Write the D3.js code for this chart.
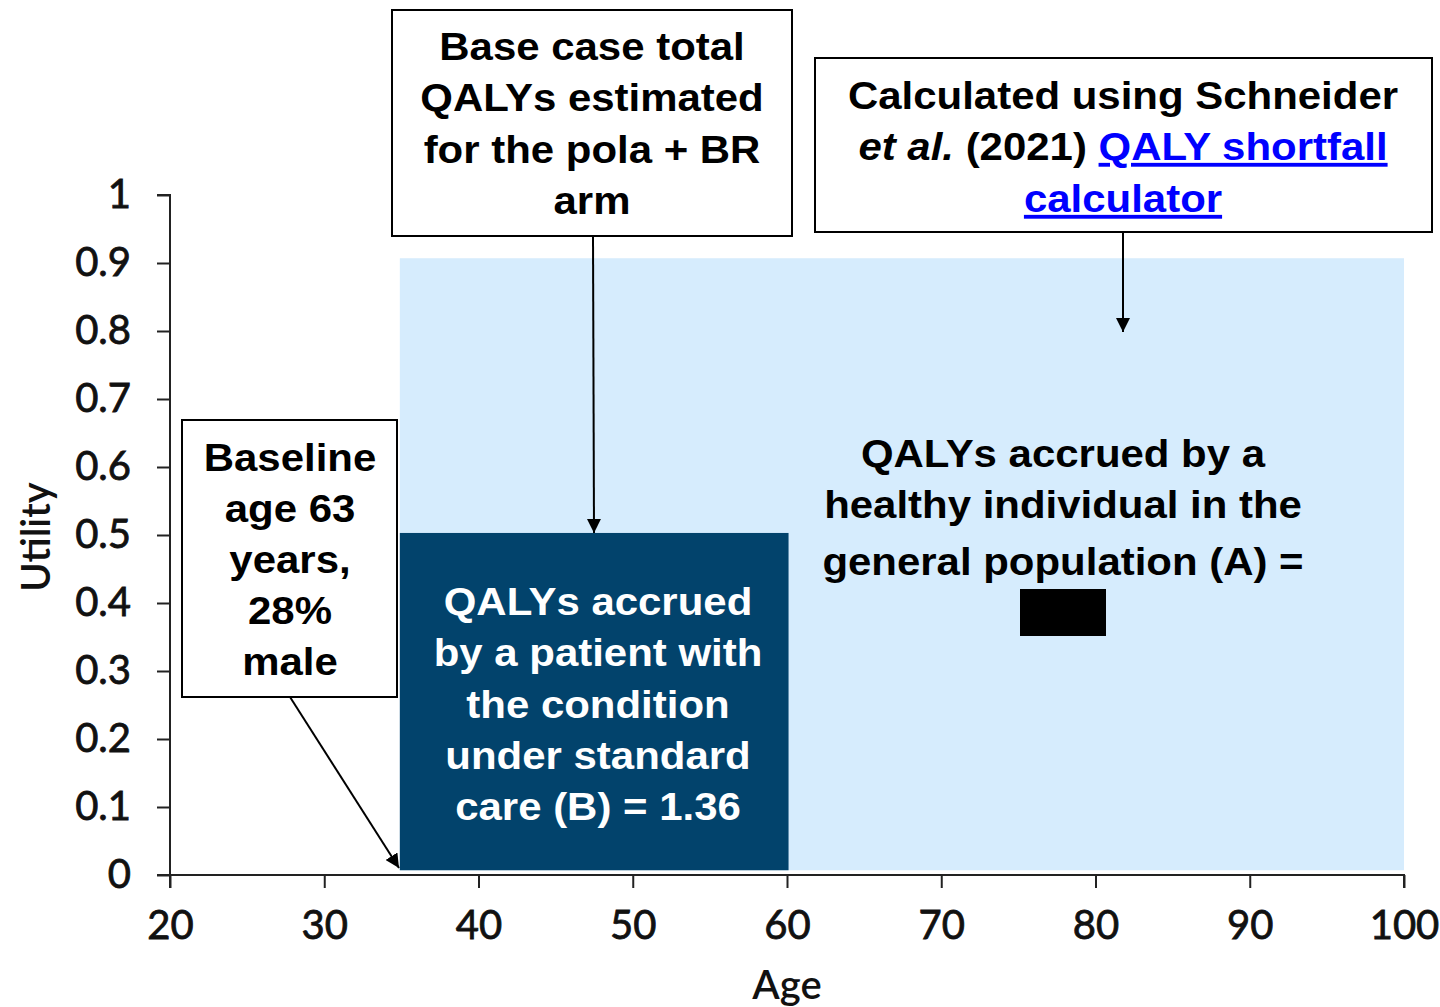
<!DOCTYPE html>
<html>
<head>
<meta charset="utf-8">
<script src="https://cdn.jsdelivr.net/npm/d3@7"></script>
<style>
  html, body { margin: 0; padding: 0; background: #fff; }
  svg { display: block; }
</style>
</head>
<body>
<svg id="chart" width="1440" height="1007"></svg>
<script>
// Utility profile areas: start age, end age, utility
const areaNames = ["general", "patient"];
const areaStartAge = [34.9, 34.9];
const areaEndAge = [100, 60.1];
const areaUtility = [0.907, 0.503];
const areaBase = 0.007;

const xTicks = [20, 30, 40, 50, 60, 70, 80, 90, 100];
const yTicks = [0, 0.1, 0.2, 0.3, 0.4, 0.5, 0.6, 0.7, 0.8, 0.9, 1];

const patientLines = ["QALYs accrued", "by a patient with", "the condition", "under standard", "care (B) = 1.36"];
const generalLines = ["QALYs accrued by a", "healthy individual in the", "general population (A) ="];
const baseCaseLines = ["Base case total", "QALYs estimated", "for the pola + BR", "arm"];
const baselineLines = ["Baseline", "age 63", "years,", "28%", "male"];

const svg = d3.select("#chart");
const x = d3.scaleLinear().domain([20, 100]).range([170, 1404]);
const y = d3.scaleLinear().domain([0, 1]).range([875, 195]);

const colours = { general: "#d6ecfd", patient: "#02436c" };
const sans = "'Liberation Sans', Arial, sans-serif";
const tickFont = "Lato, 'Open Sans', sans-serif";
const stretch = 1.09;

// Arrowhead marker
svg.append("defs").append("marker")
  .attr("id", "arrow")
  .attr("viewBox", "0 0 10 10")
  .attr("refX", 10).attr("refY", 5)
  .attr("markerWidth", 7).attr("markerHeight", 7)
  .attr("markerUnits", "strokeWidth")
  .attr("orient", "auto")
  .append("path").attr("d", "M0,0 L10,5 L0,10 Z").attr("fill", "#000");

// Areas
svg.append("g").selectAll("rect")
  .data(areaNames.map((n, i) => ({ n, a0: areaStartAge[i], a1: areaEndAge[i], u: areaUtility[i] })))
  .join("rect")
  .attr("x", d => x(d.a0))
  .attr("y", d => y(d.u))
  .attr("width", d => x(d.a1) - x(d.a0))
  .attr("height", d => y(areaBase) - y(d.u))
  .attr("fill", d => colours[d.n]);

// Axes
const xAxis = svg.append("g")
  .attr("transform", `translate(0,${y(0)})`)
  .call(d3.axisBottom(x).tickValues(xTicks).tickSize(13).tickPadding(23).tickFormat(d3.format("d")));
const yAxis = svg.append("g")
  .attr("transform", `translate(${x(20)},0)`)
  .call(d3.axisLeft(y).tickValues(yTicks).tickSize(13).tickPadding(26).tickFormat(d => d3.format("")(d)));
[xAxis, yAxis].forEach(g => {
  g.selectAll("path, line").attr("stroke", "#222").attr("stroke-width", 2);
  g.selectAll("text").attr("font-family", tickFont).attr("font-size", 40).attr("fill", "#111")
    .attr("stroke", "#111").attr("stroke-width", 0.8);
});
xAxis.select(".domain").attr("d", `M${x(20)},13V0H${x(100)}V13`);
yAxis.select(".domain").attr("d", `M-13,${y(1)}H0V${y(0)}H-13`);

// Axis titles
svg.append("text")
  .attr("transform", `translate(50,${(y(0) + y(1)) / 2 + 2}) rotate(-90)`)
  .attr("text-anchor", "middle")
  .attr("font-family", tickFont).attr("font-size", 40).attr("font-weight", 600).attr("fill", "#111")
  .text("Utility");
svg.append("text")
  .attr("x", 787).attr("y", 999)
  .attr("text-anchor", "middle")
  .attr("font-family", tickFont).attr("font-size", 40).attr("font-weight", 600).attr("fill", "#111")
  .text("Age");

// Multi-line centred text, slightly widened
function lines(arr, cx, y0, step, colour, size) {
  const t = svg.append("text")
    .attr("transform", `translate(${cx},0) scale(${stretch},1)`)
    .attr("text-anchor", "middle")
    .attr("font-family", sans).attr("font-weight", "bold")
    .attr("font-size", size).attr("fill", colour);
  arr.forEach((s, i) => t.append("tspan").attr("x", 0).attr("y", y0 + i * step).text(s));
  return t;
}

// Area labels
lines(patientLines, 598, 615, 51.3, "#fff", 38.5);
lines(generalLines.slice(0, 2), 1063, 467, 51.5, "#000", 38.5);
lines(generalLines.slice(2), 1063, 575, 0, "#000", 38.5);
// Redacted value
svg.append("rect").attr("x", 1020).attr("y", 589).attr("width", 86).attr("height", 47).attr("fill", "#000");

// Callout boxes
function box(x0, y0, w, h) {
  svg.append("rect").attr("x", x0).attr("y", y0).attr("width", w).attr("height", h)
    .attr("fill", "#fff").attr("stroke", "#000").attr("stroke-width", 2);
}
function arrow(x1, y1, x2, y2) {
  svg.append("line").attr("x1", x1).attr("y1", y1).attr("x2", x2).attr("y2", y2)
    .attr("stroke", "#000").attr("stroke-width", 2).attr("marker-end", "url(#arrow)");
}

box(392, 10, 400, 226);
lines(baseCaseLines, 592, 60, 51.3, "#000", 38.5);
arrow(593, 236, 594, 533);

box(815, 58, 617, 174);
lines(["Calculated using Schneider"], 1123, 109, 0, "#000", 38.5);
const l2 = svg.append("text")
  .attr("transform", `translate(1123,0) scale(${stretch},1)`)
  .attr("text-anchor", "middle")
  .attr("font-family", sans).attr("font-weight", "bold").attr("font-size", 38.5).attr("fill", "#000")
  .attr("x", 0).attr("y", 160);
l2.append("tspan").attr("font-style", "italic").text("et al.");
l2.append("tspan").text(" (2021) ");
l2.append("tspan").attr("fill", "#0000ff").attr("text-decoration", "underline").text("QALY shortfall");
lines(["calculator"], 1123, 212, 0, "#0000ff", 38.5).attr("text-decoration", "underline");
arrow(1123, 232, 1123, 332);

box(182, 420, 215, 277);
lines(baselineLines, 290, 471, 51, "#000", 38.5);
arrow(290, 697, 399, 868);
</script>
</body>
</html>
